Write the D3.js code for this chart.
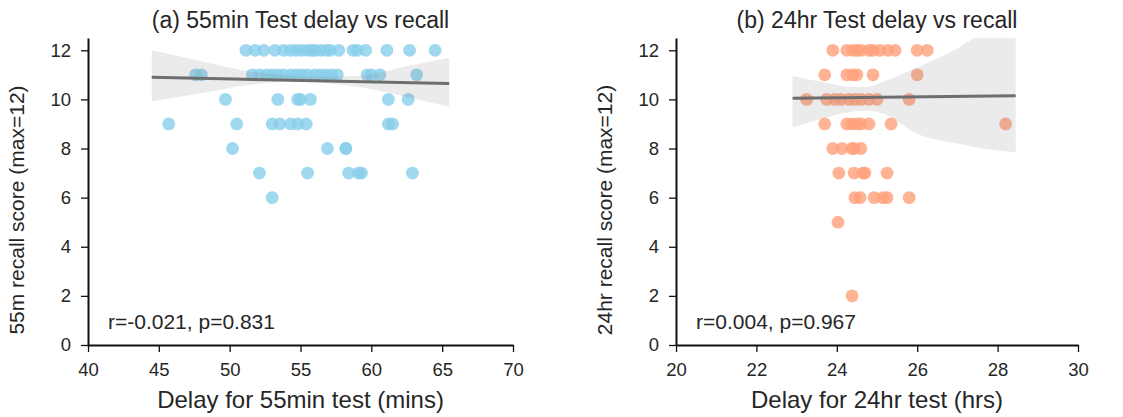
<!DOCTYPE html>
<html>
<head>
<meta charset="utf-8">
<script src="https://cdn.jsdelivr.net/npm/d3@7"></script>
<style>
  body { margin: 0; background: #fff; }
  svg text { font-family: "Liberation Sans", Arial, sans-serif; fill: #262626; }
</style>
</head>
<body>
<svg id="chart" width="1123" height="417"></svg>
<script>
// (a) 55min test: delay (mins) and recall score, one pair per participant
var minDelay = [51.15, 51.8, 52.4, 53.2, 53.8, 54.3, 54.7, 55.1, 55.5, 55.8, 56.0, 56.4, 56.8, 57.1, 57.7, 58.7, 59.0, 59.6, 61.1, 62.7, 64.5,
  47.6, 48.0, 51.6, 52.1, 52.6, 53.0, 53.4, 53.8, 54.3, 54.7, 55.1, 55.5, 56.0, 56.4, 56.8, 57.2, 57.6, 59.7, 60.0, 60.6, 63.2,
  49.7, 53.4, 54.8, 55.0, 55.7, 61.2, 62.6,
  45.7, 50.5, 53.0, 53.55, 54.3, 54.8, 55.4, 61.2, 61.5,
  50.2, 56.9, 58.2, 58.2,
  52.1, 55.5, 58.4, 59.1, 59.3, 62.9,
  53.0];
var minScore = [12, 12, 12, 12, 12, 12, 12, 12, 12, 12, 12, 12, 12, 12, 12, 12, 12, 12, 12, 12, 12,
  11, 11, 11, 11, 11, 11, 11, 11, 11, 11, 11, 11, 11, 11, 11, 11, 11, 11, 11, 11, 11,
  10, 10, 10, 10, 10, 10, 10,
  9, 9, 9, 9, 9, 9, 9, 9, 9,
  8, 8, 8, 8,
  7, 7, 7, 7, 7, 7,
  6];

// (b) 24hr test: delay (hrs) and recall score
var hrDelay = [23.9, 24.25, 24.4, 24.5, 24.6, 24.8, 24.9, 25.07, 25.27, 25.45, 26.0, 26.25,
  23.7, 24.25, 24.4, 24.5, 24.9, 26.0,
  23.25, 23.75, 23.95, 24.1, 24.3, 24.45, 24.6, 24.8, 25.0, 25.8,
  23.7, 24.25, 24.37, 24.5, 24.6, 24.8, 25.35, 28.2,
  23.9, 24.13, 24.38, 24.43, 24.6,
  24.05, 24.43, 24.65, 24.7, 25.25,
  24.45, 24.58, 24.93, 25.15, 25.25, 25.8,
  24.03,
  24.38];
var hrScore = [12, 12, 12, 12, 12, 12, 12, 12, 12, 12, 12, 12,
  11, 11, 11, 11, 11, 11,
  10, 10, 10, 10, 10, 10, 10, 10, 10, 10,
  9, 9, 9, 9, 9, 9, 9, 9,
  8, 8, 8, 8, 8,
  7, 7, 7, 7, 7,
  6, 6, 6, 6, 6, 6,
  5,
  2];

// fitted regression lines (end points) and confidence bands
var minFitX = [44.5, 65.5], minFitY = [10.9, 10.65];
var minBandX = [44.5, 48, 51.4, 54, 56, 58, 59.7, 62.5, 65.5];
var minBandHi = [12.0, 11.55, 11.14, 10.97, 10.93, 10.93, 11.0, 11.35, 11.7];
var minBandLo = [9.92, 10.25, 10.6, 10.72, 10.7, 10.6, 10.45, 10.1, 9.7];

var hrFitX = [22.9, 28.45], hrFitY = [10.05, 10.15];
var hrBandX = [22.9, 23.6, 24.3, 24.7, 25.2, 26.0, 27.0, 27.45, 28.45];
var hrBandHi = [10.95, 10.72, 10.52, 10.5, 10.75, 11.3, 12.07, 12.5, 12.8];
var hrBandLo = [8.86, 9.2, 9.48, 9.55, 9.4, 8.6, 8.2, 8.05, 7.85];

var yTicks = [0, 2, 4, 6, 8, 10, 12];
var minTicks = [40, 45, 50, 55, 60, 65, 70];
var hrTicks = [20, 22, 24, 26, 28, 30];

var svg = d3.select("#chart");

var panels = [
  { id: "a", x0: 88, x1: 513, domain: [40, 70], ticks: minTicks, xs: minDelay, ys: minScore, color: "skyblue",
    fitX: minFitX, fitY: minFitY, bandX: minBandX, bandHi: minBandHi, bandLo: minBandLo,
    title: "(a) 55min Test delay vs recall", xlabel: "Delay for 55min test (mins)",
    ylabel: "55m recall score (max=12)", note: "r=-0.021, p=0.831" },
  { id: "b", x0: 676, x1: 1078, domain: [20, 30], ticks: hrTicks, xs: hrDelay, ys: hrScore, color: "lightsalmon",
    fitX: hrFitX, fitY: hrFitY, bandX: hrBandX, bandHi: hrBandHi, bandLo: hrBandLo,
    title: "(b) 24hr Test delay vs recall", xlabel: "Delay for 24hr test (hrs)",
    ylabel: "24hr recall score (max=12)", note: "r=0.004, p=0.967" }
];

var plotTop = 38, plotBottom = 345;

panels.forEach(function(p) {
  var x = d3.scaleLinear().domain(p.domain).range([p.x0, p.x1]);
  var y = d3.scaleLinear().domain([0, 12.5]).range([plotBottom, plotTop]);

  var g = svg.append("g");

  g.append("clipPath").attr("id", "clip-" + p.id)
    .append("rect")
      .attr("x", p.x0).attr("y", plotTop)
      .attr("width", p.x1 - p.x0).attr("height", plotBottom - plotTop);

  // points first, the band and line sit on top (as seaborn draws them)
  g.append("g")
    .selectAll("circle")
    .data(p.xs)
    .enter().append("circle")
      .attr("cx", function(d) { return x(d); })
      .attr("cy", function(d, i) { return y(p.ys[i]); })
      .attr("r", 6.4)
      .attr("fill", p.color)
      .attr("fill-opacity", 0.8);

  var band = d3.area()
    .x(function(d) { return x(d); })
    .y0(function(d, i) { return y(p.bandLo[i]); })
    .y1(function(d, i) { return y(p.bandHi[i]); })
    .curve(d3.curveMonotoneX);

  g.append("path")
    .attr("clip-path", "url(#clip-" + p.id + ")")
    .attr("d", band(p.bandX))
    .attr("fill", "#777")
    .attr("fill-opacity", 0.15);

  g.append("path")
    .attr("d", d3.line()
      .x(function(d) { return x(d); })
      .y(function(d, i) { return y(p.fitY[i]); })(p.fitX))
    .attr("fill", "none")
    .attr("stroke", "#6e6e6e")
    .attr("stroke-width", 3);

  var xAxis = g.append("g")
    .attr("transform", "translate(0," + plotBottom + ")")
    .call(d3.axisBottom(x).tickValues(p.ticks).tickSize(7).tickPadding(11).tickSizeOuter(0));
  var yAxis = g.append("g")
    .attr("transform", "translate(" + p.x0 + ",0)")
    .call(d3.axisLeft(y).tickValues(yTicks).tickSize(7).tickPadding(10).tickSizeOuter(0));

  [xAxis, yAxis].forEach(function(ax) {
    ax.select(".domain").attr("stroke", "#111").attr("stroke-width", 2);
    ax.selectAll(".tick line").attr("stroke", "#111").attr("stroke-width", 1.3);
    ax.selectAll(".tick text")
      .attr("font-family", "Liberation Sans, Arial, sans-serif")
      .attr("font-size", 18.5)
      .attr("fill", "#262626");
  });

  var cx = (p.x0 + p.x1) / 2;

  g.append("text")
    .attr("x", cx).attr("y", 28)
    .attr("text-anchor", "middle")
    .attr("font-size", 23)
    .text(p.title);

  g.append("text")
    .attr("x", cx).attr("y", 408)
    .attr("text-anchor", "middle")
    .attr("font-size", 24)
    .text(p.xlabel);

  g.append("text")
    .attr("transform", "translate(" + (p.x0 - 64) + ",210)rotate(-90)")
    .attr("text-anchor", "middle")
    .attr("font-size", 21)
    .text(p.ylabel);

  g.append("text")
    .attr("x", p.x0 + 20).attr("y", 329)
    .attr("font-size", 21)
    .text(p.note);
});
</script>
</body>
</html>
